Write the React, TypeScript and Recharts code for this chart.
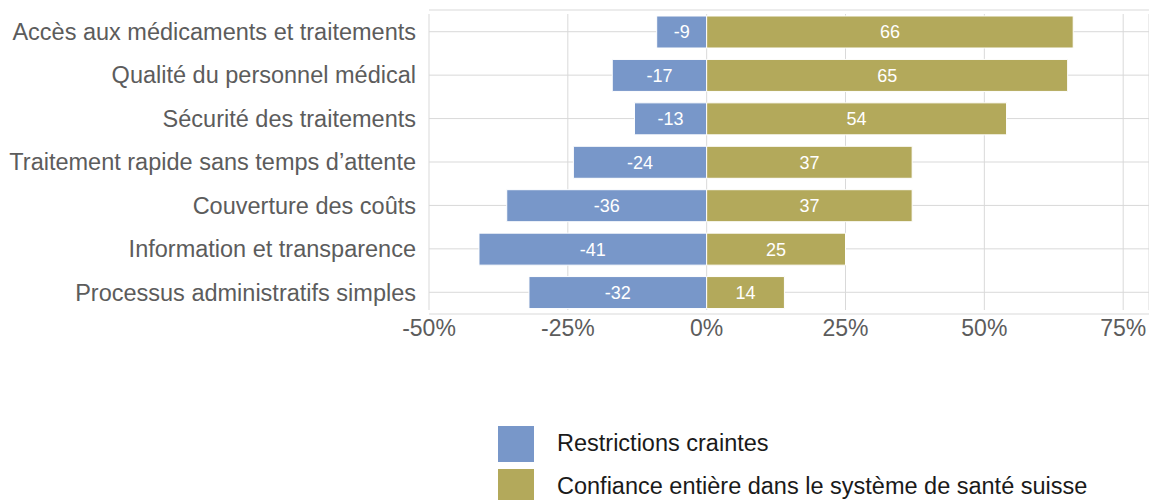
import { BarChart, Bar, XAxis, YAxis, CartesianGrid, LabelList, Legend } from 'recharts';

const categories = [
  'Accès aux médicaments et traitements',
  'Qualité du personnel médical',
  'Sécurité des traitements',
  'Traitement rapide sans temps d’attente',
  'Couverture des coûts',
  'Information et transparence',
  'Processus administratifs simples',
];
const restrictions = [-9, -17, -13, -24, -36, -41, -32];
const confidence = [66, 65, 54, 37, 37, 25, 14];
const xTicks = [-50, -25, 0, 25, 50, 75];
const seriesNames = ['Restrictions craintes', 'Confiance entière dans le système de santé suisse'];

const data = categories.map((name, i) => ({
  name,
  restrictions: restrictions[i],
  confidence: confidence[i],
}));

const FONT = '"Liberation Sans", Arial, Helvetica, sans-serif';
const BLUE = '#7897c9';
const GOLD = '#b3a95b';
const GRID = '#d9d9d9';

// vertical grid lines stop a little short of the panel edges
const verticalLine = (props: any) => {
  const { x1, x2, y1, y2 } = props;
  return <line key={`v-${x1}`} x1={x1} x2={x2} y1={y1 + 4} y2={y2 - 4} stroke={GRID} strokeWidth={1} />;
};

const renderLegend = (props: any) => {
  const { payload = [] } = props;
  // keep the series order of the original legend
  const items = seriesNames
    .map((n) => payload.find((p: any) => p.value === n))
    .filter(Boolean);
  return (
    <div style={{ height: 80, overflow: 'hidden', paddingTop: 2, boxSizing: 'border-box', fontFamily: FONT }}>
      {items.map((entry: any) => (
        <div key={entry.value} style={{ display: 'flex', alignItems: 'center', height: 43 }}>
          <div style={{ width: 36, height: 36, background: entry.color, flex: 'none' }} />
          <span style={{ marginLeft: 23, fontSize: 23.5, color: '#1a1a1a', whiteSpace: 'nowrap' }}>{entry.value}</span>
        </div>
      ))}
    </div>
  );
};

export default function App() {
  return (
    <div style={{ position: 'absolute', left: 0, top: 0, background: '#fff' }}>
      <BarChart
        width={1149}
        height={500}
        data={data}
        layout="vertical"
        stackOffset="sign"
        margin={{ top: 10, right: 0, bottom: 0, left: 0 }}
      >
        <CartesianGrid stroke={GRID} vertical={verticalLine} />
        <XAxis
          type="number"
          domain={[-50, 79.65]}
          ticks={xTicks}
          allowDataOverflow
          tickFormatter={(v: number) => `${v}%`}
          axisLine={false}
          tickLine={false}
          tickSize={0}
          tickMargin={6}
          height={106}
          tick={{ fill: '#5c5c5c', fontSize: 23, fontFamily: FONT }}
        />
        <YAxis
          type="category"
          dataKey="name"
          width={429}
          axisLine={false}
          tickLine={false}
          tickSize={0}
          tickMargin={13}
          tick={{ fill: '#5c5c5c', fontSize: 23.5, fontFamily: FONT }}
        />
        <Legend
          verticalAlign="bottom"
          content={renderLegend}
          wrapperStyle={{ left: 498, width: 651, height: 80 }}
        />
        <Bar dataKey="restrictions" name={seriesNames[0]} stackId="s" fill={BLUE} stroke="#fff" strokeWidth={1} barSize={32} isAnimationActive={false}>
          <LabelList dataKey="restrictions" position="center" fill="#fff" fontSize={18} fontFamily={FONT} />
        </Bar>
        <Bar dataKey="confidence" name={seriesNames[1]} stackId="s" fill={GOLD} stroke="#fff" strokeWidth={1} barSize={32} isAnimationActive={false}>
          <LabelList dataKey="confidence" position="center" fill="#fff" fontSize={18} fontFamily={FONT} />
        </Bar>
      </BarChart>
    </div>
  );
}
